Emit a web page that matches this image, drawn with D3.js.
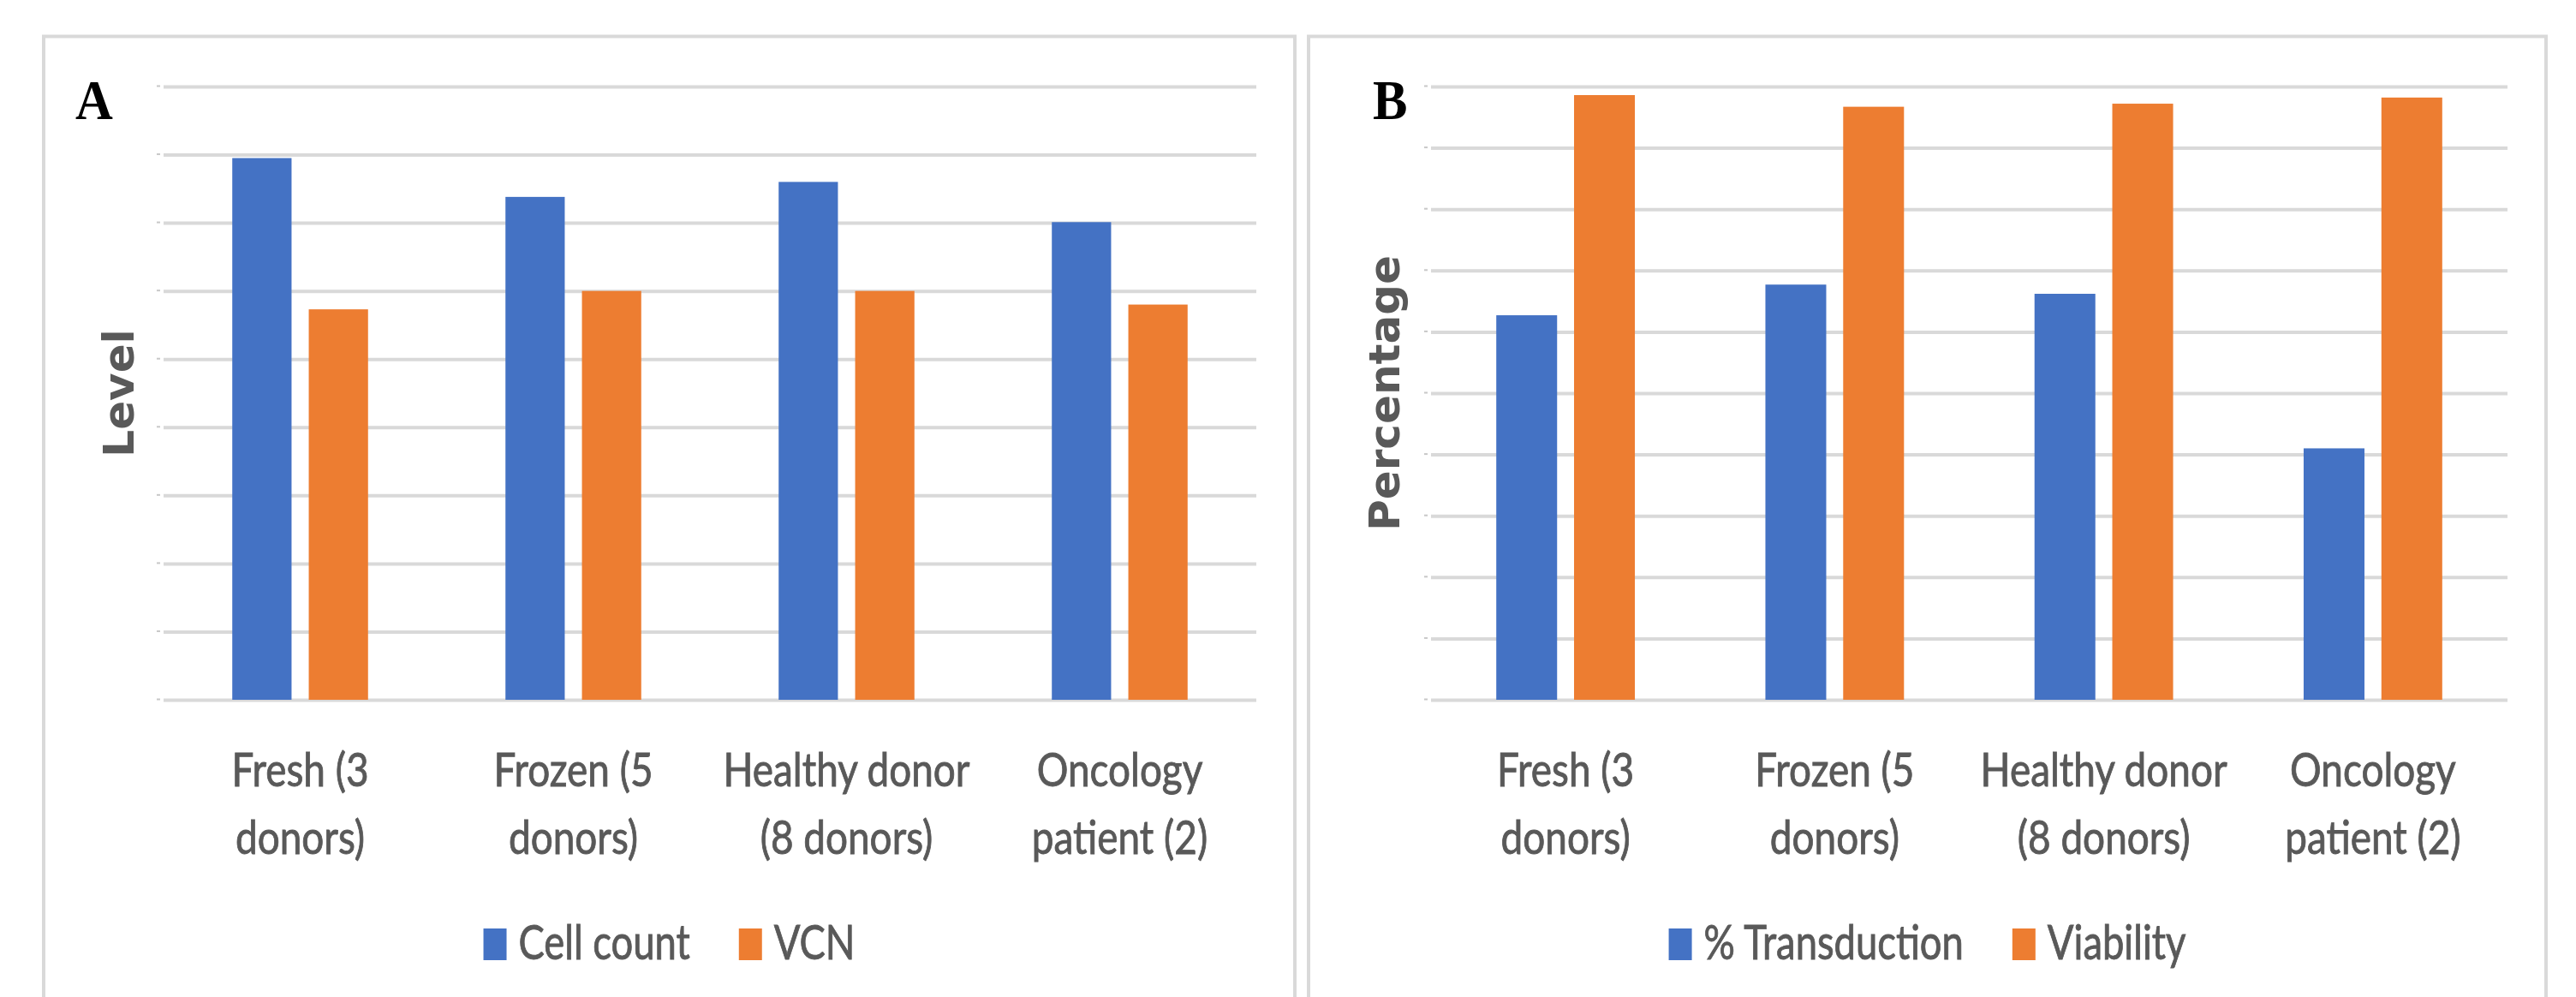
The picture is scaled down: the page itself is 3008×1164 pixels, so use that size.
<!DOCTYPE html>
<html>
<head>
<meta charset="utf-8">
<script src="https://cdn.jsdelivr.net/npm/d3@7"></script>
<style>
  html, body { margin: 0; padding: 0; background: #ffffff; }
  svg { display: block; }
</style>
</head>
<body>
<svg id="chart" width="3008" height="1164"></svg>
<script>
// ---- data ----
const categoryLines = [
  ["Fresh (3", "donors)"],
  ["Frozen (5", "donors)"],
  ["Healthy donor", "(8 donors)"],
  ["Oncology", "patient (2)"]
];
const categories = categoryLines.map(l => l.join(" "));

// Panel A: level per group
const seriesA = ["Cell count", "VCN"];
const cellCount = [7.95, 7.38, 7.60, 7.01];
const vcn = [5.73, 6.00, 6.00, 5.80];
const levelTicks = [0, 1, 2, 3, 4, 5, 6, 7, 8, 9];

// Panel B: percentages per group
const seriesB = ["% Transduction", "Viability"];
const transduction = [62.7, 67.7, 66.2, 41.0];
const viability = [98.6, 96.7, 97.2, 98.2];
const percentTicks = [0, 10, 20, 30, 40, 50, 60, 70, 80, 90, 100];

// ---- styling ----
const BLUE = "#4472C4", ORANGE = "#ED7D31";
const GRID = "#d9d9d9", TEXT = "#595959";
const LABEL_FONT = "Lato, 'Open Sans', sans-serif";

const svg = d3.select("#chart");
svg.append("rect").attr("width", 3008).attr("height", 1164).attr("fill", "#fff");

// Calibri-like label text, compressed horizontally and slightly thickened
function squeezedText(g, x, y, str, size, anchor, sx) {
  return g.append("text")
    .attr("transform", `translate(${x},${y}) scale(${sx},1)`)
    .attr("text-anchor", anchor)
    .attr("font-family", LABEL_FONT)
    .attr("font-size", size)
    .attr("fill", TEXT)
    .attr("stroke", TEXT)
    .attr("stroke-width", 0.9)
    .text(str);
}

function drawPanel(cfg) {
  const g = svg.append("g");

  // panel frame (runs past the bottom edge)
  g.append("rect")
    .attr("x", cfg.frame[0]).attr("y", 42.5)
    .attr("width", cfg.frame[1] - cfg.frame[0]).attr("height", 1300)
    .attr("fill", "none").attr("stroke", GRID).attr("stroke-width", 4);

  const x = d3.scaleBand().domain(categories).range([cfg.plot.x0, cfg.plot.x1]);
  const y = d3.scaleLinear().domain(cfg.domain).range([cfg.plot.yBase, cfg.plot.yTop]);

  // horizontal gridlines through the y axis
  const axis = d3.axisLeft(y)
    .tickValues(cfg.ticks)
    .tickSize(-(cfg.plot.x1 - cfg.plot.x0))
    .tickFormat("");
  const ga = g.append("g")
    .attr("transform", `translate(${cfg.plot.x0},0)`)
    .call(axis);
  ga.select(".domain").remove();
  ga.selectAll(".tick line").attr("stroke", GRID).attr("stroke-width", 4);
  // faint stubs where the hidden tick labels sit
  ga.selectAll(".tick").append("rect")
    .attr("x", -8).attr("y", -2).attr("width", 4).attr("height", 2)
    .attr("fill", "#c8c8c8");

  // grouped bars
  const band = x.bandwidth();
  const barW = band * cfg.barFrac;
  const gap = band * 0.063;
  const groupW = barW * 2 + gap;
  const sub = d3.scaleOrdinal().domain(cfg.series).range([0, barW + gap]);
  const color = d3.scaleOrdinal().domain(cfg.series).range([BLUE, ORANGE]);

  cfg.series.forEach((s, si) => {
    g.append("g").selectAll("rect")
      .data(cfg.values[si])
      .join("rect")
      .attr("x", (d, i) => x(categories[i]) + band / 2 - groupW / 2 + sub(s))
      .attr("y", d => y(d))
      .attr("width", barW)
      .attr("height", d => y(0) - y(d))
      .attr("fill", color(s));
  });

  // category labels, two lines each
  categoryLines.forEach((lines, i) => {
    const cx = x(categories[i]) + band / 2;
    lines.forEach((ln, li) => squeezedText(g, cx, 918 + li * 79, ln, 54, "middle", 0.85));
  });

  // y-axis title
  g.append("text")
    .attr("transform", `translate(${cfg.titleX},${(cfg.plot.yTop + cfg.plot.yBase) / 2}) rotate(-90)`)
    .attr("text-anchor", "middle")
    .attr("font-family", "'DejaVu Sans', Verdana, sans-serif")
    .attr("font-weight", "bold")
    .attr("font-size", 50)
    .attr("fill", TEXT)
    .text(cfg.yTitle);

  // panel letter
  g.append("text")
    .attr("transform", `translate(${cfg.letterX},139) scale(0.92,1)`)
    .attr("font-family", "'Liberation Serif', 'Times New Roman', serif")
    .attr("font-weight", "bold")
    .attr("font-size", 66)
    .attr("fill", "#000")
    .text(cfg.letter);

  // legend, centred on the panel
  const lg = g.append("g");
  const LSX = 0.81;
  let cursor = 0;
  cfg.series.forEach((s, si) => {
    if (si > 0) cursor += 57;
    lg.append("rect")
      .attr("x", cursor).attr("y", 1084).attr("width", 27).attr("height", 37)
      .attr("fill", color(s));
    cursor += 27 + 14;
    const t = squeezedText(lg, cursor, 1120, s, 56, "start", LSX);
    cursor += t.node().getComputedTextLength() * LSX;
  });
  const mid = (cfg.frame[0] + cfg.frame[1]) / 2;
  lg.attr("transform", `translate(${mid - cursor / 2},0)`);
}

drawPanel({
  frame: [51, 1512],
  plot: { x0: 191, x1: 1467, yTop: 101, yBase: 817 },
  domain: [0, 9], ticks: levelTicks,
  series: seriesA, values: [cellCount, vcn],
  barFrac: 0.217,
  yTitle: "Level", titleX: 156,
  letter: "A", letterX: 88
});

drawPanel({
  frame: [1528, 2973],
  plot: { x0: 1671, x1: 2928, yTop: 101, yBase: 817 },
  domain: [0, 100], ticks: percentTicks,
  series: seriesB, values: [transduction, viability],
  barFrac: 0.226,
  yTitle: "Percentage", titleX: 1634,
  letter: "B", letterX: 1603
});
</script>
</body>
</html>
